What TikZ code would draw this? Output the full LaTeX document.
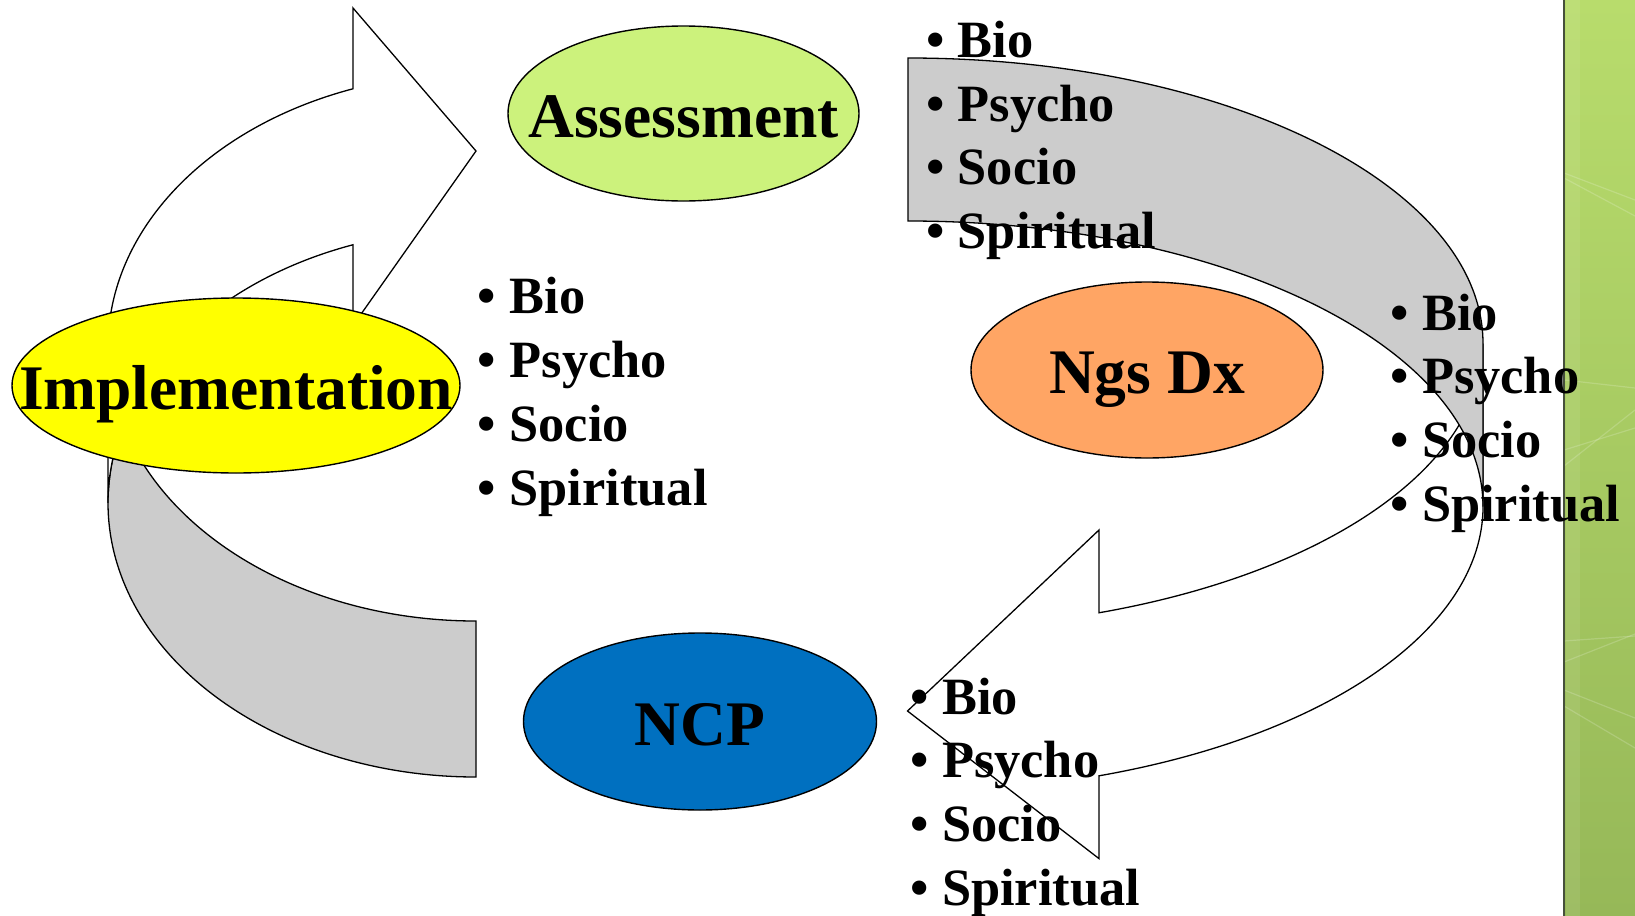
\documentclass[tikz,border=0pt]{standalone}
\usepackage{fontspec}
\setmainfont{Liberation Serif}
\usetikzlibrary{shapes.geometric}
\definecolor{assessgreen}{RGB}{204,242,124}
\definecolor{implyellow}{RGB}{255,255,0}
\definecolor{ngsorange}{RGB}{255,165,100}
\definecolor{ncpblue}{RGB}{0,112,192}
\definecolor{backgray}{RGB}{204,204,204}
\definecolor{stripTop}{RGB}{184,220,108}
\definecolor{stripBot}{RGB}{150,184,88}
\definecolor{stripEdge}{RGB}{70,80,60}
\newcommand\bulitem[1]{\makebox[15.9pt][l]{•}#1}
\tikzset{
  shapeedge/.style={draw=black, line width=0.65pt, line join=miter},
  backpart/.style={shapeedge, fill=backgray},
  frontpart/.style={shapeedge, fill=white},
  stage/.style={ellipse, draw=black, line width=0.7pt, inner sep=0pt,
    font=\bfseries\fontsize{31.75pt}{38pt}\selectfont,
    text height=23.5pt, text depth=0pt},
  item/.style={anchor=base west, inner sep=0pt,
    font=\bfseries\fontsize{26.2pt}{32pt}\selectfont},
  stripline/.style={draw=white, draw opacity=0.18, line width=0.6pt},
}
\begin{document}
\begin{tikzpicture}[x=0.5pt, y=-0.5pt]
\useasboundingbox (0,0) rectangle (1635,916);
% green strip at the right
\shade[top color=stripTop, bottom color=stripBot] (1564,0) rectangle (1635,916);
\fill[white, opacity=0.08] (1566,0) rectangle (1580,916);
\draw[stripline] (1564,173) -- (1635,200);
\draw[stripline] (1564,178) -- (1635,216);
\draw[stripline] (1564,380) -- (1635,388);
\draw[stripline] (1564,466) -- (1635,410);
\draw[stripline] (1564,450) -- (1635,428);
\draw[stripline] (1564,641) -- (1635,636);
\draw[stripline] (1564,662) -- (1635,634);
\draw[stripline] (1564,690) -- (1635,718);
\draw[stripline] (1564,706) -- (1635,748);
\draw[draw=stripEdge, line width=0.8pt] (1564,0) -- (1564,916);

% left curved arrow (Implementation -> Assessment)
\path[backpart] (476,777)
  arc[start angle=90, end angle=196.54, x radius=368, y radius=274]
  arc[start angle=163.46, end angle=90, x radius=368, y radius=274] -- cycle;
\path[frontpart] (108,347)
  arc[start angle=180, end angle=250.47, x radius=368, y radius=274]
  -- (353,8) -- (476,151) -- (353,325.5) -- (353,244.76)
  arc[start angle=250.47, end angle=180, x radius=368, y radius=274] -- cycle;

% right curved arrow (Assessment -> Ngs Dx -> NCP)
\path[frontpart] (1483,343.5)
  arc[start angle=0, end angle=70.6, x radius=575, y radius=285.5]
  -- (1099,530) -- (907.5,711) -- (1099,858.6) -- (1099,775.8)
  arc[start angle=70.6, end angle=0, x radius=575, y radius=285.5] -- cycle;
\path[backpart] (908,58)
  arc[start angle=-90, end angle=0, x radius=575, y radius=285.5]
  -- (1483,506.5)
  arc[start angle=0, end angle=-90, x radius=575, y radius=285.5] -- cycle;

% stages
\node[stage, fill=assessgreen, minimum width=175.5pt, minimum height=87.5pt] (assess) at (683.5,113.5) {\makebox[0pt]{Assessment}};
\node[stage, fill=implyellow, minimum width=224pt, minimum height=87.5pt] (impl) at (236,385.5) {\makebox[0pt]{Implementation}};
\node[stage, fill=ngsorange, minimum width=176pt, minimum height=88pt] (ngsdx) at (1147,370) {\makebox[0pt]{Ngs Dx}};
\node[stage, fill=ncpblue, minimum width=176.5pt, minimum height=88.5pt] (ncp) at (700,721.5) {\makebox[0pt]{NCP}};

% bullet lists
\node[item] (a1) at (925.7,57.5) {\bulitem{Bio}};
\node[item] (a2) at (925.7,121.2) {\bulitem{Psycho}};
\node[item] (a3) at (925.7,184.9) {\bulitem{Socio}};
\node[item] (a4) at (925.7,248.6) {\bulitem{Spiritual}};

\node[item] (b1) at (477.5,313.5) {\bulitem{Bio}};
\node[item] (b2) at (477.5,377.4) {\bulitem{Psycho}};
\node[item] (b3) at (477.5,441.3) {\bulitem{Socio}};
\node[item] (b4) at (477.5,505.2) {\bulitem{Spiritual}};

\node[item] (c1) at (1389.9,330) {\bulitem{Bio}};
\node[item] (c2) at (1389.9,393.9) {\bulitem{Psycho}};
\node[item] (c3) at (1389.9,457.8) {\bulitem{Socio}};
\node[item] (c4) at (1389.9,521.7) {\bulitem{Spiritual}};

\node[item] (d1) at (909.9,714) {\bulitem{Bio}};
\node[item] (d2) at (909.9,777.7) {\bulitem{Psycho}};
\node[item] (d3) at (909.9,841.4) {\bulitem{Socio}};
\node[item] (d4) at (909.9,905.1) {\bulitem{Spiritual}};
\end{tikzpicture}
\end{document}
